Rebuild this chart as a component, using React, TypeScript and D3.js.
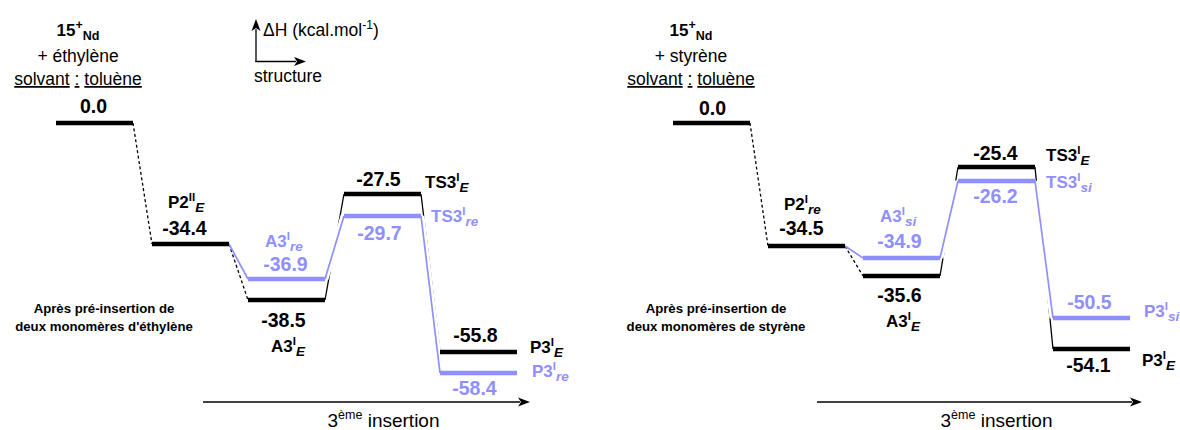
import React from "react";
import * as d3 from "d3";

// ---------- DATA ----------
const steps = [0, 1, 2, 3, 4];
const ethBlackValues = [0.0, -34.4, -38.5, -27.5, -55.8];
const ethBlueValues = [-36.9, -29.7, -58.4]; // steps 2..4
const styBlackValues = [0.0, -34.5, -35.6, -25.4, -54.1];
const styBlueValues = [-34.9, -26.2, -50.5]; // steps 2..4
const ethBlackNames = [null, ["P2", "II", "E"], ["A3", "I", "E"], ["TS3", "I", "E"], ["P3", "I", "E"]];
const ethBlueNames = [["A3", "I", "re"], ["TS3", "I", "re"], ["P3", "I", "re"]];
const styBlackNames = [null, ["P2", "I", "re"], ["A3", "I", "E"], ["TS3", "I", "E"], ["P3", "I", "E"]];
const styBlueNames = [["A3", "I", "si"], ["TS3", "I", "si"], ["P3", "I", "si"]];
const monomers = ["+ éthylène", "+ styrène"];
const preInsertion = ["deux monomères d'éthylène", "deux monomères de styrène"];

// ---------- LAYOUT ----------
const BLUE = "#8f8fff";
const FONT = "'Liberation Sans', Arial, Helvetica, sans-serif";
const BAR_W = 77;

const panels = [
  {
    black: ethBlackValues, blue: ethBlueValues, blackNames: ethBlackNames, blueNames: ethBlueNames,
    monomer: monomers[0], pre: preInsertion[0],
    xRange: [56, 440],
    yRange: [123, 194, 216, 244, 279, 300, 352, 373],
    headerX: 78, preX: 104, arrow: [203, 530], axisLegend: true,
    bv: [[-1, -10], [-6, -9], [-3, 27], [-4, -8], [-3, -10]],
    bn: [null, [0, 16, -36], [0, 23, 52], [1, 4, -6], [1, 13, 1]],
    lv: [[-1, -8], [-3, 24], [-4, 22]],
    ln: [[0, 17, -32], [1, 10, 6], [1, 15, 4]],
  },
  {
    black: styBlackValues, blue: styBlueValues, blackNames: styBlackNames, blueNames: styBlueNames,
    monomer: monomers[1], pre: preInsertion[1],
    xRange: [673, 1053],
    yRange: [123, 167, 181, 246, 258, 276, 318, 349],
    headerX: 691, preX: 716, arrow: [817, 1142], axisLegend: false,
    bv: [[1, -8], [-5, -11], [-2, 26], [-1, -7], [-3, 23]],
    bn: [null, [0, 16, -36], [0, 23, 51], [1, 11, -6], [1, 12, 17]],
    lv: [[-2, -10], [-1, 22], [-2, -9]],
    ln: [[0, 17, -36], [1, 11, 7], [1, 14, -1]],
  },
];

function Name({ n, x, y, color }: any) {
  return (
    <text x={x} y={y} fontFamily={FONT} fontWeight="bold" fontSize={17} fill={color}>
      <tspan>{n[0]}</tspan>
      <tspan dy={-7} fontSize={11.5}>{n[1]}</tspan>
      <tspan dy={11} fontSize={13.5} fontStyle="italic">{n[2]}</tspan>
    </text>
  );
}

function Arrow({ x1, y1, x2, y2 }: any) {
  const a = Math.atan2(y2 - y1, x2 - x1);
  const L = 12, W = 4.5;
  const bx = x2 - L * Math.cos(a), by = y2 - L * Math.sin(a);
  const px = -Math.sin(a) * W, py = Math.cos(a) * W;
  return (
    <g>
      <line x1={x1} y1={y1} x2={bx + 2 * Math.cos(a)} y2={by + 2 * Math.sin(a)} stroke="#000" strokeWidth={1.3} />
      <path d={`M${x2},${y2}L${bx + px},${by + py}L${bx + 3 * Math.cos(a)},${by + 3 * Math.sin(a)}L${bx - px},${by - py}Z`} fill="#000" />
    </g>
  );
}

function Panel({ p }: any) {
  const x = d3.scaleLinear().domain([0, 4]).range(p.xRange);
  const allVals = [...p.black, ...p.blue].sort((a: number, b: number) => b - a);
  const y = d3.scaleLinear().domain(allVals).range(p.yRange);
  const line = d3.line<[number, number]>();
  const blackBars = steps.map((s) => ({ s, v: p.black[s], x0: x(s), x1: x(s) + BAR_W, y: y(p.black[s]) }));
  const blueBars = p.blue.map((v: number, i: number) => ({ s: i + 2, v, x0: x(i + 2), x1: x(i + 2) + BAR_W, y: y(v) }));

  const blackConn: any[] = [];
  for (let i = 0; i < 4; i++) {
    const a = blackBars[i], b = blackBars[i + 1];
    blackConn.push({ d: line([[a.x1, a.y], [b.x0, b.y]]), dashed: i < 2 });
  }
  const blueConn: string[] = [];
  const p2 = blackBars[1];
  blueConn.push(line([[p2.x1, p2.y], [blueBars[0].x0, blueBars[0].y]])!);
  for (let i = 0; i < 2; i++) {
    const a = blueBars[i], b = blueBars[i + 1];
    blueConn.push(line([[a.x1, a.y], [b.x0, b.y]])!);
  }
  const fmt = (v: number) => v.toFixed(1);
  const hx = p.headerX;

  return (
    <g>
      {/* header */}
      <text x={hx} y={36} textAnchor="middle" fontFamily={FONT} fontWeight="bold" fontSize={17}>
        <tspan>15</tspan>
        <tspan dy={-7} fontSize={12.5}>+</tspan>
        <tspan dy={11} fontSize={12.5}>Nd</tspan>
      </text>
      <text x={hx} y={62} textAnchor="middle" fontFamily={FONT} fontSize={17.5}>{p.monomer}</text>
      <text x={hx} y={85} textAnchor="middle" fontFamily={FONT} fontSize={17.5}>
        <tspan textDecoration="underline">solvant</tspan>
        <tspan> </tspan>
        <tspan textDecoration="underline">:</tspan>
        <tspan> </tspan>
        <tspan textDecoration="underline">toluène</tspan>
      </text>
      <text x={p.preX} y={313} textAnchor="middle" fontFamily={FONT} fontWeight="bold" fontSize={13.2}>Après pré-insertion de</text>
      <text x={p.preX} y={331} textAnchor="middle" fontFamily={FONT} fontWeight="bold" fontSize={13.2}>{p.pre}</text>

      {/* black connectors */}
      {blackConn.map((c, i) => (
        <path key={"bc" + i} d={c.d} fill="none" stroke="#000" strokeWidth={1.3} strokeDasharray={c.dashed ? "3,2.5" : undefined} />
      ))}
      {/* blue connectors with white halo */}
      {blueConn.map((d, i) => (
        <path key={"wh" + i} d={d} fill="none" stroke="#fff" strokeWidth={i === 0 ? 0 : 7} />
      ))}
      {blueConn.map((d, i) => (
        <path key={"bl" + i} d={d} fill="none" stroke={BLUE} strokeWidth={1.7} />
      ))}
      {/* bars */}
      {blueBars.map((b: any, i: number) => (
        <line key={"bb" + i} x1={b.x0} x2={b.x1} y1={b.y} y2={b.y} stroke={BLUE} strokeWidth={4.5} />
      ))}
      {blackBars.map((b, i) => (
        <line key={"kb" + i} x1={b.x0} x2={b.x1} y1={b.y} y2={b.y} stroke="#000" strokeWidth={4.5} />
      ))}
      {/* value labels */}
      {blackBars.map((b, i) => (
        <text key={"kv" + i} x={(b.x0 + b.x1) / 2 + p.bv[i][0]} y={b.y + p.bv[i][1]} textAnchor="middle"
          fontFamily={FONT} fontWeight="bold" fontSize={19.5} fill="#000">{fmt(b.v)}</text>
      ))}
      {blueBars.map((b: any, i: number) => (
        <text key={"lv" + i} x={(b.x0 + b.x1) / 2 + p.lv[i][0]} y={b.y + p.lv[i][1]} textAnchor="middle"
          fontFamily={FONT} fontWeight="bold" fontSize={19.5} fill={BLUE}>{fmt(b.v)}</text>
      ))}
      {/* names */}
      {blackBars.map((b, i) => {
        const n = p.blackNames[i];
        if (!n) return null;
        const o = p.bn[i];
        return <Name key={"kn" + i} n={n} x={(o[0] ? b.x1 : b.x0) + o[1]} y={b.y + o[2]} color="#000" />;
      })}
      {blueBars.map((b: any, i: number) => {
        const o = p.ln[i];
        return <Name key={"ln" + i} n={p.blueNames[i]} x={(o[0] ? b.x1 : b.x0) + o[1]} y={b.y + o[2]} color={BLUE} />;
      })}

      {/* bottom arrow */}
      <Arrow x1={p.arrow[0]} y1={402} x2={p.arrow[1]} y2={402} />
      <text x={(p.arrow[0] + p.arrow[1]) / 2 + 17} y={427} textAnchor="middle" fontFamily={FONT} fontSize={19}>
        <tspan>3</tspan>
        <tspan dy={-8} fontSize={12.5}>ème</tspan>
        <tspan dy={8}> insertion</tspan>
      </text>

      {p.axisLegend && (
        <g>
          <Arrow x1={256} y1={62} x2={256} y2={19} />
          <Arrow x1={255.4} y1={61.5} x2={306} y2={61.5} />
          <text x={263} y={36} fontFamily={FONT} fontSize={17.5}>
            <tspan>ΔH (kcal.mol</tspan>
            <tspan dy={-7} fontSize={12}>-1</tspan>
            <tspan dy={7}>)</tspan>
          </text>
          <text x={254} y={82} fontFamily={FONT} fontSize={17.5}>structure</text>
        </g>
      )}
    </g>
  );
}

export default function App() {
  return (
    <svg width={1180} height={430} style={{ position: "absolute", left: 0, top: 0, background: "#fff" }}>
      <rect width={1180} height={430} fill="#fff" />
      {panels.map((p, i) => <Panel key={i} p={p} />)}
    </svg>
  );
}
